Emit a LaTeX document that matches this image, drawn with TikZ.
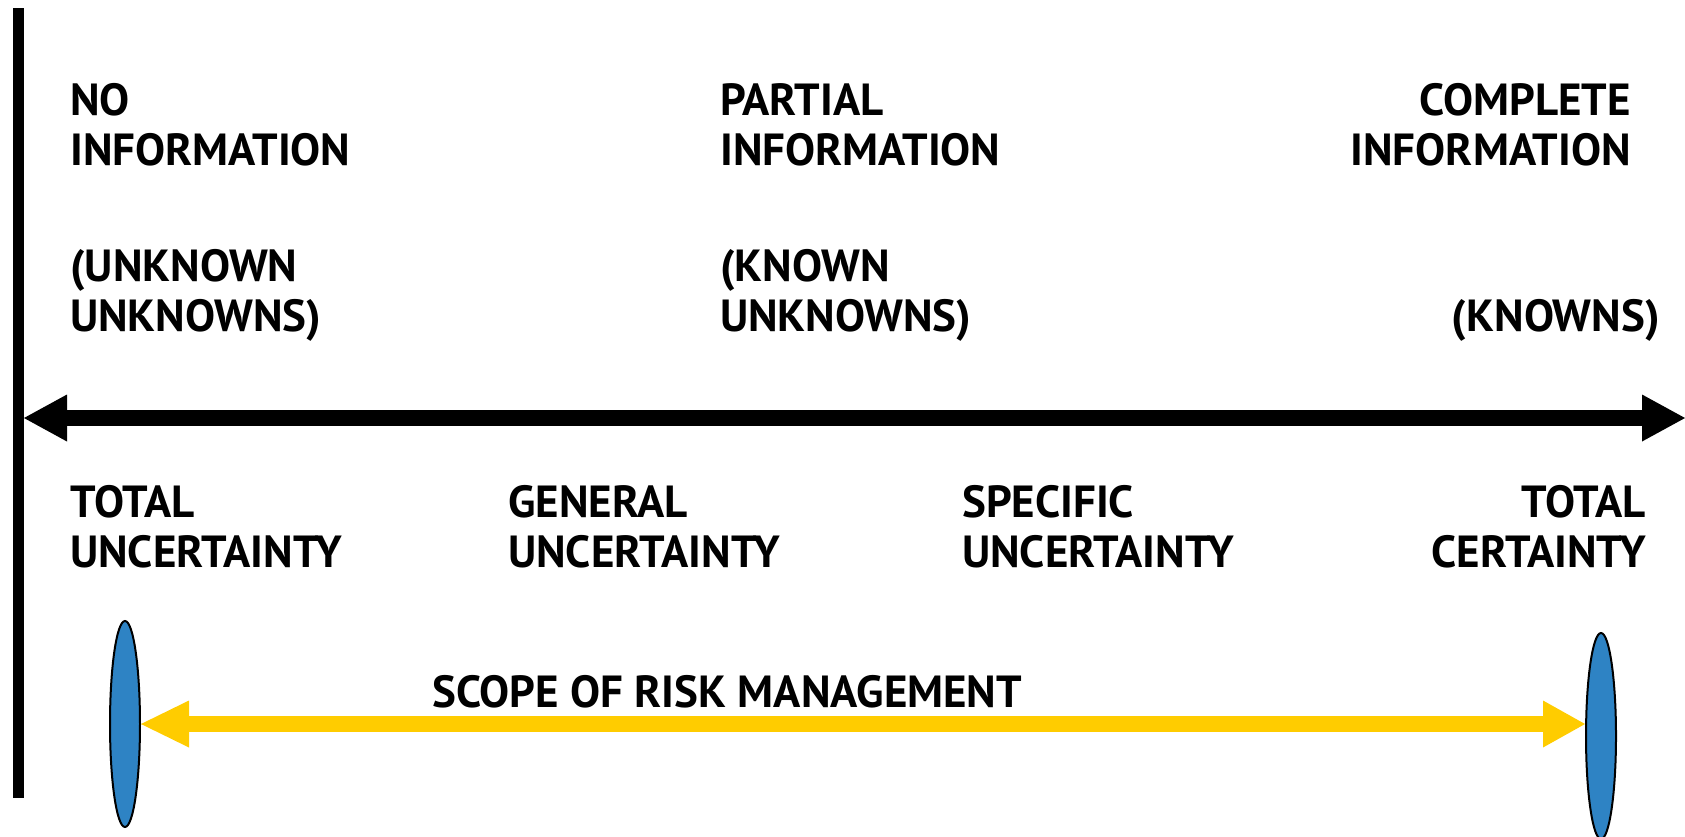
\documentclass[tikz,border=0pt]{standalone}
\usepackage{fontspec}
\setmainfont{PT Sans}
\usepackage{tikz}
\usepackage{xcolor}
\usetikzlibrary{arrows.meta,shapes.geometric}

\definecolor{capblue}{RGB}{46,131,196}
\definecolor{scopegold}{RGB}{255,204,0}

\begin{document}
\begin{tikzpicture}[x=1pt, y=-1pt,
		lbl/.style={font=\bfseries\fontsize{45}{50}\selectfont, inner sep=0, align=left, anchor=base west},
		lblr/.style={lbl, align=right, anchor=base east},
		bigarrow/.style={line width=16pt, {Triangle[length=43pt, width=47pt, line width=0pt]}-{Triangle[length=43pt, width=47pt, line width=0pt]}},
		endcap/.style={ellipse, draw=black, line width=2pt, fill=capblue, minimum width=30pt, minimum height=206pt, inner sep=0}]
				\useasboundingbox (0,0) rectangle (1685,836);
				\coordinate (wtop) at (18.5,8);
				\coordinate (wbot) at (18.5,798);
				\draw[line width=11pt] (wtop) -- (wbot);
				\coordinate (axl) at (24,418);
				\coordinate (axr) at (1685,418);
				\draw[bigarrow] (axl) -- (axr);
				\node[lbl] (noinfo) at (70,165) {NO\\INFORMATION};
				\node[lbl] (unkunk) at (70,331) {(UNKNOWN\\UNKNOWNS)};
				\node[lbl] (partinfo) at (720,165) {PARTIAL\\INFORMATION};
				\node[lbl] (knownunk) at (720,331) {(KNOWN\\UNKNOWNS)};
				\node[lblr] (compinfo) at (1631,165) {COMPLETE\\INFORMATION};
				\node[lblr] (knowns) at (1660,331) {(KNOWNS)};
				\node[lbl] (totunc) at (70,567) {TOTAL\\UNCERTAINTY};
				\node[lbl] (genunc) at (508,567) {GENERAL\\UNCERTAINTY};
				\node[lbl] (specunc) at (962,567) {SPECIFIC\\UNCERTAINTY};
				\node[lblr] (totcert) at (1646,567) {TOTAL\\CERTAINTY};
				\node[lbl] (scope) at (432,707) {SCOPE OF RISK MANAGEMENT};
				\node[endcap] (lend) at (125,724) {};
				\node[endcap] (rend) at (1601,736) {};
				\draw[line width=16pt, scopegold, {Triangle[length=48pt, width=47pt, line width=0pt]}-{Triangle[length=42pt, width=47pt, line width=0pt]}] (lend.east) -- (lend.east -| rend.west);
			\end{tikzpicture}
\end{document}
